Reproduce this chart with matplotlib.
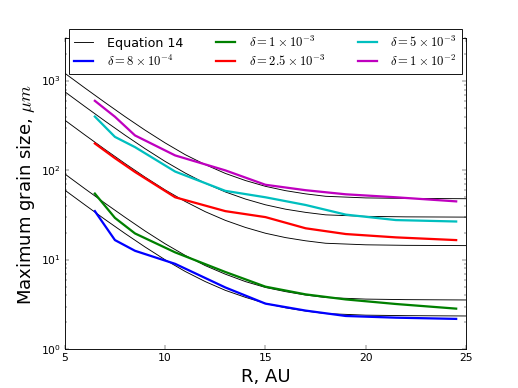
import numpy as np
import matplotlib as mpl
mpl.use("Agg")
import matplotlib.pyplot as plt
plt.style.use('classic')
mpl.rcParams['mathtext.fontset'] = 'cm'

# Equation 14 curves
r_eq = [5, 6, 7, 8, 9, 10, 11, 12, 13, 14, 15, 16, 17, 18, 20, 22, 25]
eq_a = [1223, 836, 576, 400, 282, 203, 150, 116, 92.5, 77, 66.3, 59.3, 54.6, 51.3, 49.2, 48.6, 48.2]
eq_b = [759, 519, 357, 248, 175, 126, 93.4, 71.8, 57.4, 47.8, 41.2, 36.8, 33.9, 31.8, 30.6, 30.2, 30.0]
eq_c = [365, 249.5, 171.8, 119.4, 84.1, 60.5, 44.9, 34.5, 27.6, 23.0, 19.8, 17.7, 16.3, 15.3, 14.7, 14.5, 14.4]
eq_d = [91.3, 62.4, 43, 29.9, 21, 15.1, 11.2, 8.6, 6.9, 5.7, 4.9, 4.4, 4.03, 3.78, 3.63, 3.58, 3.55]
eq_e = [60.2, 41.2, 28.3, 19.7, 13.9, 10.0, 7.4, 5.7, 4.55, 3.8, 3.25, 2.9, 2.67, 2.5, 2.4, 2.37, 2.35]

# simulation results
r_sim = [6.5, 7.5, 8.5, 10.5, 13, 15, 17, 19, 21.5, 24.5]
a_8e4 = [35, 16.6, 12.6, 9.0, 4.9, 3.23, 2.7, 2.35, 2.25, 2.18]
a_1e3 = [55, 29.4, 19.7, 12.1, 7.3, 5.0, 4.1, 3.6, 3.2, 2.84]
a_25e3 = [200, 137, 96, 50, 35, 30, 22.5, 19.4, 17.8, 16.6]
a_5e3 = [400, 237, 182, 97, 59, 50, 41, 32, 27.8, 26.8]
a_1e2 = [600, 398, 246, 147, 100, 69, 60, 54, 50, 45]

fig = plt.figure(figsize=(8, 6))
ax = fig.add_subplot(111)

ax.plot(r_eq, eq_a, 'k-', lw=1, label='Equation 14')
for eq in (eq_b, eq_c, eq_d, eq_e):
    ax.plot(r_eq, eq, 'k-', lw=1)

ax.plot(r_sim, a_8e4, 'b-', lw=2.5, label=r'$\delta=8\times10^{-4}$')
ax.plot(r_sim, a_1e3, 'g-', lw=2.5, label=r'$\delta=1\times10^{-3}$')
ax.plot(r_sim, a_25e3, 'r-', lw=2.5, label=r'$\delta=2.5\times10^{-3}$')
ax.plot(r_sim, a_5e3, 'c-', lw=2.5, label=r'$\delta=5\times10^{-3}$')
ax.plot(r_sim, a_1e2, 'm-', lw=2.5, label=r'$\delta=1\times10^{-2}$')

ax.set_yscale('log')
ax.set_xlim(5, 25)
ax.set_ylim(1, 3000)
ax.set_xlabel('R, AU', fontsize=20)
ax.set_ylabel(r'Maximum grain size, $\mu m$', fontsize=20)

ax.legend(loc='upper center', bbox_to_anchor=(0.5, 1.03), borderaxespad=0,
          ncol=3, fontsize=14, numpoints=1, columnspacing=2.6,
          labelspacing=0.28, borderpad=0.45, handlelength=1.5,
          handletextpad=1.1)

fig.savefig('out.png', dpi=64.75)
